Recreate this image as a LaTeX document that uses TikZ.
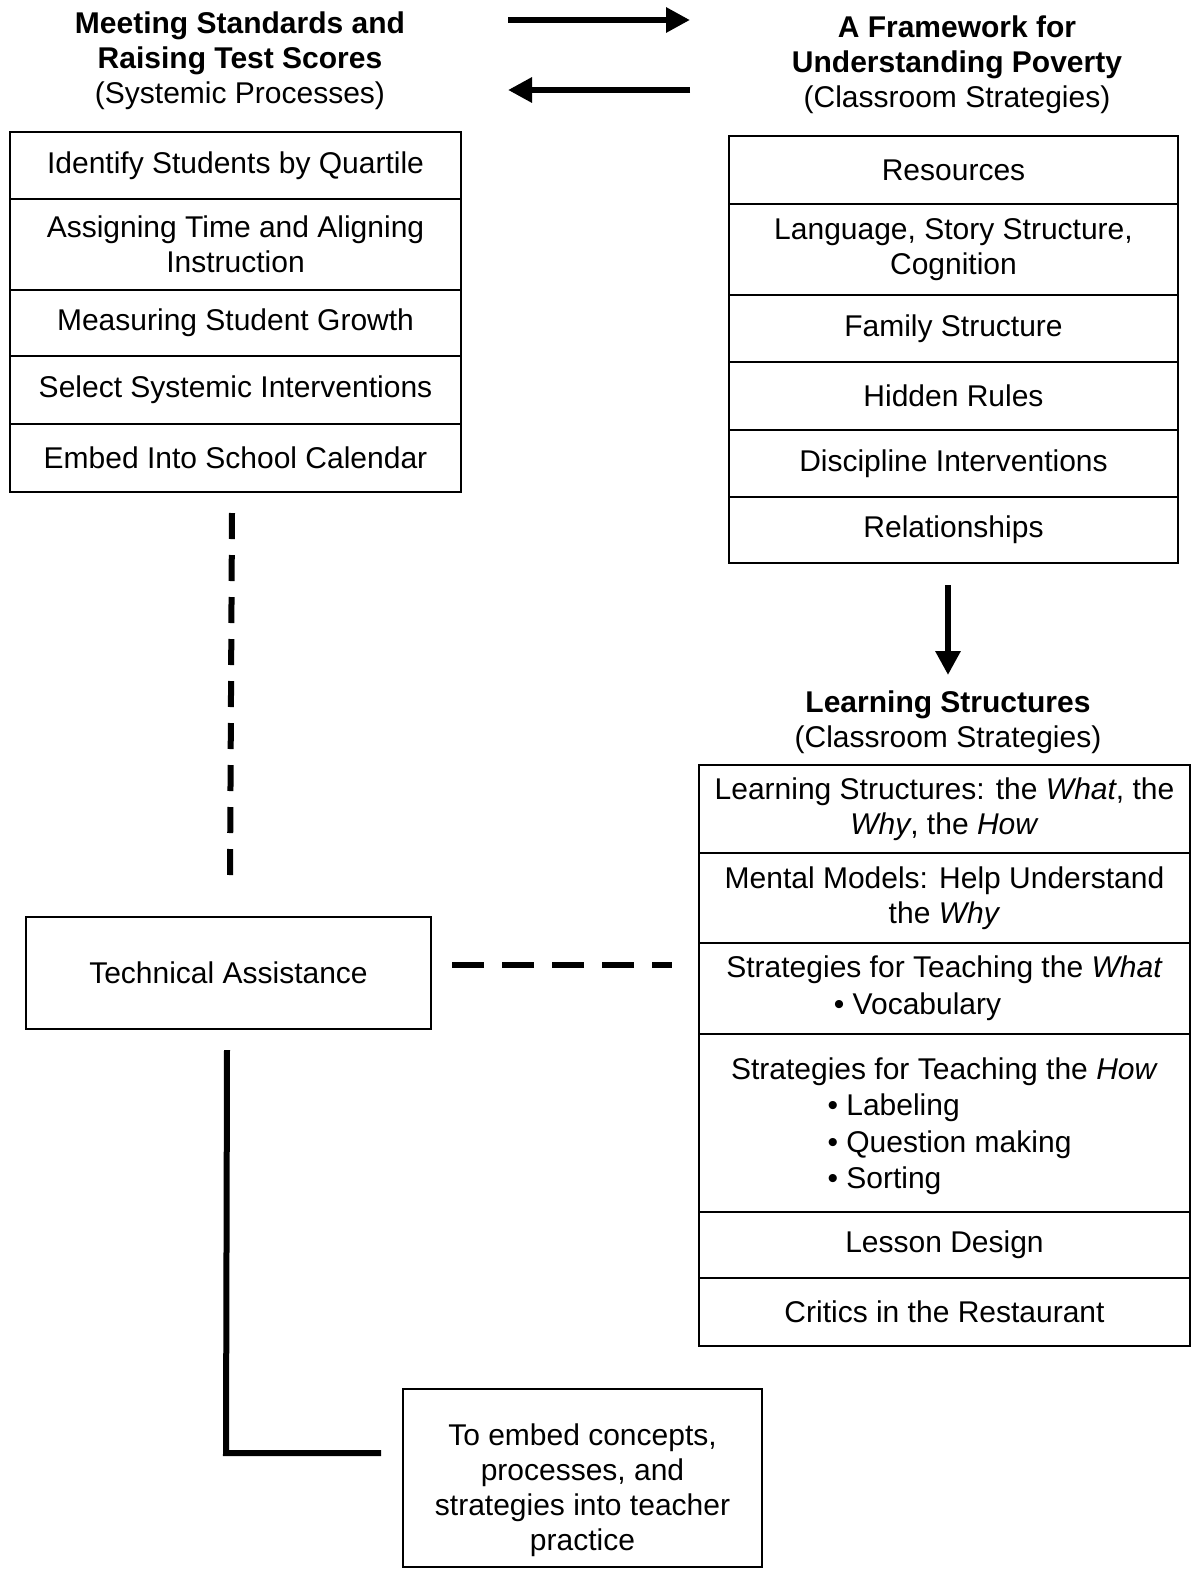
\documentclass[tikz,border=0pt]{standalone}
\usepackage{fontspec}
\setmainfont{Liberation Sans}
\usetikzlibrary{arrows.meta}
\begin{document}
\begin{tikzpicture}[x=1pt,y=-1pt,
  every node/.style={font=\fontsize{30}{35}\selectfont},
  row/.style={draw=black,line width=1.8pt,inner sep=0pt,align=center,minimum width=#1},
  title/.style={align=center,inner sep=0pt},
  bigarrow/.style={line width=6pt,-{Triangle[length=24pt,width=24pt]}},
  dashv/.style={line width=6pt,dash pattern=on 26pt off 16pt},
  dashh/.style={line width=6pt,dash pattern=on 32pt off 18pt},
  solidline/.style={line width=6pt}]
\useasboundingbox (0,0) rectangle (1194,1569);
\fill[white] (0,0) rectangle (1194,1569);

% left titles and box
\node[title] (lt) at (240,61) {\textbf{Meeting Standards and}\\\textbf{Raising Test Scores}\\(Systemic Processes)};
\node[row=451pt,minimum height=67pt] (L1) at (235.5,165.5) {Identify Students by Quartile};
\node[row=451pt,minimum height=91pt] (L2) at (235.5,244.5) {Assigning Time and Aligning\\Instruction};
\node[row=451pt,minimum height=66pt] (L3) at (235.5,323) {Measuring Student Growth};
\node[row=451pt,minimum height=68pt] (L4) at (235.5,390) {Select Systemic Interventions};
\node[row=451pt,minimum height=68pt] (L5) at (235.5,458) {Embed Into School Calendar};

% right titles and box
\node[title] (rt) at (957,65) {\textbf{A Framework for}\\\textbf{Understanding Poverty}\\(Classroom Strategies)};
\node[row=449pt,minimum height=68pt] (R1) at (953.5,170) {Resources};
\node[row=449pt,minimum height=91pt] (R2) at (953.5,249.5) {Language, Story Structure,\\Cognition};
\node[row=449pt,minimum height=67pt] (R3) at (953.5,328.5) {Family Structure};
\node[row=449pt,minimum height=68pt] (R4) at (953.5,396) {Hidden Rules};
\node[row=449pt,minimum height=67pt] (R5) at (953.5,463.5) {Discipline Interventions};
\node[row=449pt,minimum height=66pt] (R6) at (953.5,530) {Relationships};

% learning structures
\node[title] (ls) at (948,722) {\textbf{Learning Structures}\\(Classroom Strategies)};
\node[row=491pt,minimum height=88pt] (S1) at (944.5,809) {Learning Structures: the \textit{What}, the\\\textit{Why}, the \textit{How}};
\node[row=491pt,minimum height=90pt] (S2) at (944.5,898) {Mental Models: Help Understand\\the \textit{Why}};
\node[row=491pt,minimum height=91pt,font=\fontsize{30}{37}\selectfont] (S3) at (944.5,988.5) {Strategies for Teaching the \textit{What}\\\hspace*{-54pt}\textbullet{} Vocabulary};
\node[row=491pt,minimum height=178pt,font=\fontsize{30}{36.5}\selectfont] (S4) at (944.5,1123) {\rule{0pt}{33pt}Strategies for Teaching the \textit{How}\\\hspace*{10pt}\begin{tabular}[t]{@{}l@{}}\textbullet{} Labeling\\\textbullet{} Question making\\\textbullet{} Sorting\end{tabular}};
\node[row=491pt,minimum height=66pt] (S5) at (944.5,1245) {Lesson Design};
\node[row=491pt,minimum height=68pt] (S6) at (944.5,1312) {Critics in the Restaurant};

% technical assistance and bottom box
\node[row=405pt,minimum height=112pt] (TA) at (228.5,973) {Technical Assistance};
\node[row=359pt,minimum height=178pt] (EB) at (582.5,1478) {\rule{0pt}{46pt}To embed concepts,\\processes, and\\strategies into teacher\\practice};

% connector end points
\coordinate (a1s) at (508,20);
\coordinate (a1e) at (690,20);
\coordinate (a2s) at (690,90);
\coordinate (a2e) at (508,90);
\coordinate (d1s) at (948,585);
\coordinate (d1e) at (948,675);
\coordinate (v1s) at (232,513);
\coordinate (v1e) at (230,877);
\coordinate (h1s) at (452,965);
\coordinate (h1e) at (672,965);
\coordinate (s1s) at (227,1050);
\coordinate (s1c) at (226,1453);
\coordinate (s1e) at (381,1453);

\draw[bigarrow] (a1s) -- (a1e);
\draw[bigarrow] (a2s) -- (a2e);
\draw[bigarrow] (d1s) -- (d1e);
\draw[dashv] (v1s) -- (v1e);
\draw[dashh] (h1s) -- (h1e);
\draw[solidline] (s1s) -- (s1c) -- (s1e);
\end{tikzpicture}
\end{document}
